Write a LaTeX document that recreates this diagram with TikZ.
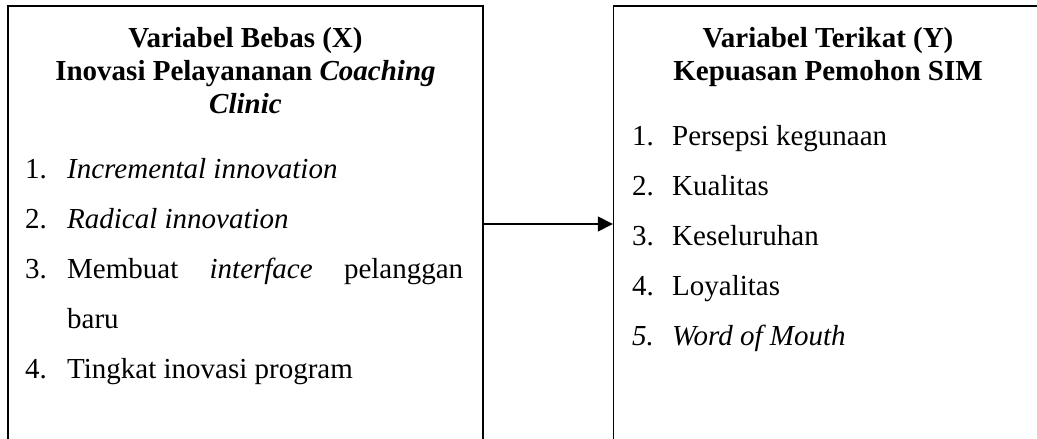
\documentclass[tikz,border=0pt]{standalone}
\usepackage{fontspec}
\setmainfont{Liberation Serif}
\usetikzlibrary{arrows.meta,positioning}

\tikzset{
  varbox/.style={draw,line width=1.6pt,inner sep=0pt,minimum height=436pt},
  judul/.style={anchor=base,inner sep=0pt,font=\fontsize{29}{33}\selectfont\bfseries},
  butir/.style={anchor=base west,inner sep=0pt,font=\fontsize{29}{33}\selectfont},
  panah/.style={line width=1.5pt,-{Triangle[length=15pt,width=15pt]}}
}

\begin{document}
\begin{tikzpicture}[x=1pt,y=-1pt]
\useasboundingbox (0,0) rectangle (1037,439);
\clip (0,0) rectangle (1037,439);

\node[varbox,minimum width=475pt] (bebas) at (245.5,224) {};
\node[varbox,minimum width=430pt,right=129pt of bebas] (terikat) {};

\draw[panah] (bebas.east) -- (terikat.west);

% variabel X
\node[judul] (jx1) at (245.5,47) {Variabel Bebas (X)};
\node[judul] (jx2) at (245.5,80) {Inovasi Pelayananan \textit{Coaching}};
\node[judul] (jx3) at (245.5,113) {\textit{Clinic}};

\node[butir] (nx1) at (25,178) {1.};
\node[butir] (nx2) at (25,228) {2.};
\node[butir] (nx3) at (25,278) {3.};
\node[butir] (nx4) at (25,378) {4.};
\node[butir] (x1) at (67,178) {\textit{Incremental innovation}};
\node[butir] (x2) at (67,228) {\textit{Radical innovation}};
\node[butir] (x3) at (67,278) {\makebox[396pt][s]{Membuat \textit{interface} pelanggan}};
\node[butir] (x3b) at (67,328) {baru};
\node[butir] (x4) at (67,378) {Tingkat inovasi program};

% variabel Y
\node[judul] (jy1) at (828,47) {Variabel Terikat (Y)};
\node[judul] (jy2) at (828,80) {Kepuasan Pemohon SIM};

\node[butir] (ny1) at (632,145) {1.};
\node[butir] (ny2) at (632,195) {2.};
\node[butir] (ny3) at (632,245) {3.};
\node[butir] (ny4) at (632,295) {4.};
\node[butir] (ny5) at (632,345) {\textit{5.}};
\node[butir] (y1) at (672,145) {Persepsi kegunaan};
\node[butir] (y2) at (672,195) {Kualitas};
\node[butir] (y3) at (672,245) {Keseluruhan};
\node[butir] (y4) at (672,295) {Loyalitas};
\node[butir] (y5) at (672,345) {\textit{Word of Mouth}};

\end{tikzpicture}
\end{document}
